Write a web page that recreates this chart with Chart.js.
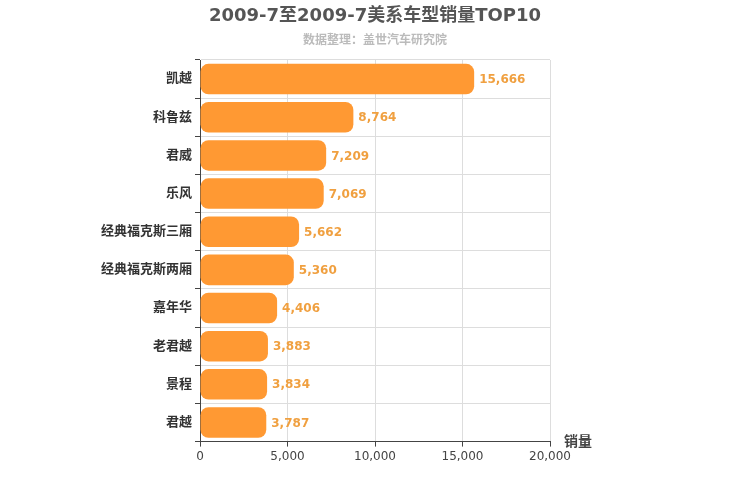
<!DOCTYPE html>
<html>
<head>
<meta charset="utf-8">
<script src="https://cdn.jsdelivr.net/npm/chart.js@4"></script>
<style>
  body { margin: 0; background: #fff; }
  #wrap { width: 750px; height: 500px; }
</style>
</head>
<body>
<div id="wrap"><canvas id="salesChart"></canvas></div>
<script>
const models = ['凯越', '科鲁兹', '君威', '乐风', '经典福克斯三厢', '经典福克斯两厢', '嘉年华', '老君越', '景程', '君越'];
const sales = [15666, 8764, 7209, 7069, 5662, 5360, 4406, 3883, 3834, 3787];
const xTicks = [0, 5000, 10000, 15000, 20000];

const fontFamily = '"DejaVu Sans", "Noto Sans CJK SC", sans-serif';

// titles centred on the page, value labels at bar ends, "销量" axis title
const extras = {
    id: 'extras',
    afterDatasetsDraw(chart) {
        const ctx = chart.ctx;
        const meta = chart.getDatasetMeta(0);
        ctx.save();
        ctx.textAlign = 'center';
        ctx.textBaseline = 'middle';
        ctx.font = 'bold 18px ' + fontFamily;
        ctx.fillStyle = '#555';
        ctx.fillText('2009-7至2009-7美系车型销量TOP10', chart.width / 2, 16);
        ctx.font = 'bold 12px ' + fontFamily;
        ctx.fillStyle = '#bbb';
        ctx.fillText('数据整理：盖世汽车研究院', chart.width / 2, 41);

        ctx.textAlign = 'left';
        ctx.font = 'bold 12px ' + fontFamily;
        ctx.fillStyle = '#f0a040';
        meta.data.forEach((bar, i) => {
            ctx.fillText(sales[i].toLocaleString('en-US'), bar.x + 5, bar.y + 1);
        });
        const area = chart.chartArea;
        ctx.font = 'bold 14px ' + fontFamily;
        ctx.fillStyle = '#444';
        ctx.textBaseline = 'bottom';
        ctx.fillText('销量', area.right + 14, area.bottom + 8);
        ctx.restore();
    }
};

new Chart(document.getElementById('salesChart').getContext('2d'), {
    type: 'bar',
    data: {
        labels: models,
        datasets: [{
            data: sales,
            backgroundColor: '#ff9933',
            borderRadius: 8,
            borderSkipped: false,
            barPercentage: 0.8,
            categoryPercentage: 1,
        }],
    },
    options: {
        indexAxis: 'y',
        responsive: true,
        maintainAspectRatio: false,
        animation: false,
        layout: { padding: { left: 0, right: 200, top: 60, bottom: 33 } },
        plugins: {
            legend: { display: false },
            tooltip: { enabled: false },
        },
        scales: {
            x: {
                min: 0,
                max: 20000,
                afterBuildTicks(axis) { axis.ticks = xTicks.map(v => ({ value: v })); },
                ticks: {
                    color: '#444',
                    font: { family: fontFamily, size: 12 },
                    callback: v => v.toLocaleString('en-US'),
                },
                grid: { color: '#ddd', tickColor: '#444', tickLength: 5 },
                border: { color: '#444' },
            },
            y: {
                afterFit(axis) { axis.width = 200; },
                ticks: {
                    color: '#333',
                    font: { family: fontFamily, size: 13, weight: 'bold' },
                },
                grid: { color: '#ddd', tickColor: '#444', tickLength: 5, offset: true },
                border: { color: '#444' },
            },
        },
    },
    plugins: [extras],
});
</script>
</body>
</html>
